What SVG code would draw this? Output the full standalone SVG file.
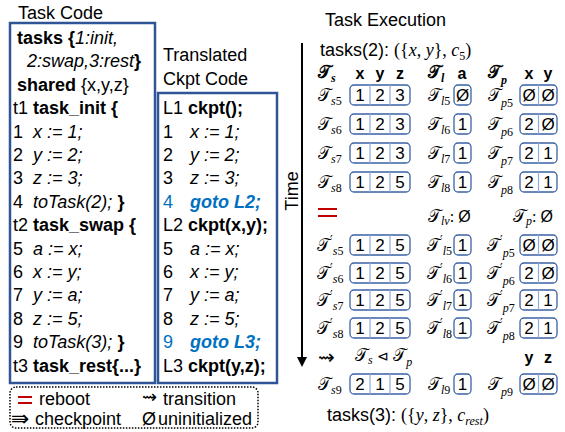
<svg xmlns="http://www.w3.org/2000/svg" width="565" height="432" viewBox="0 0 565 432">
<style>
.t{font-family:"Liberation Sans",Arial,sans-serif;font-size:18px;fill:#000}
.b{font-weight:bold}
.i{font-style:italic}
.blue{fill:#0070C0}
.box{fill:none;stroke:#2F5597;stroke-width:2.5}
.vb{fill:#fff;stroke:#3B62A5;stroke-width:1.3}
.dv{stroke:#8EA9DB;stroke-width:1.2}
.v{font-family:"Liberation Sans",Arial,sans-serif;font-size:17px;text-anchor:middle}
.m{font-family:"DejaVu Serif","DejaVu Sans",serif;font-size:17px}
.s{font-family:"Liberation Serif",serif;font-style:italic;font-size:12px}
.d{font-family:"Liberation Serif",serif;font-style:normal;font-size:12px}
.pr{font-family:"DejaVu Sans",sans-serif;font-style:normal;font-size:12px}
.hd{font-family:"Liberation Sans",Arial,sans-serif;font-size:16px;font-weight:bold;text-anchor:middle}
.mi{font-family:"Liberation Serif",serif;font-style:italic}
.mr{font-family:"Liberation Serif",serif}
</style>
<defs>
<g id="b3"><rect class="vb" x="0" y="-10" width="60" height="20" rx="4"/><line class="dv" x1="20" y1="-10" x2="20" y2="10"/><line class="dv" x1="40" y1="-10" x2="40" y2="10"/></g>
<g id="b1"><rect class="vb" x="0" y="-10" width="17" height="20" rx="4"/></g>
<g id="b2"><rect class="vb" x="0" y="-10" width="37" height="20" rx="4"/><line class="dv" x1="18.5" y1="-10" x2="18.5" y2="10"/></g>
</defs>
<g id="task-code">
<text class="t" x="18" y="19" font-size="17">Task Code</text>
<rect class="box" x="10" y="23" width="145" height="360"/>
<text class="t" x="17" y="44"><tspan class="b">tasks {</tspan><tspan class="i">1:init,</tspan></text>
<text class="t" x="27" y="67"><tspan class="i">2:swap,3:rest</tspan><tspan class="b">}</tspan></text>
<text class="t" x="17" y="91"><tspan class="b">shared</tspan> {x,y,z}</text>
<text class="t" x="13" y="114">t1 <tspan class="b">task_init {</tspan></text>
<text class="t" x="13" y="138">1</text><text class="t i" x="33" y="138">x := 1;</text>
<text class="t" x="13" y="161">2</text><text class="t i" x="33" y="161">y := 2;</text>
<text class="t" x="13" y="184">3</text><text class="t i" x="33" y="184">z := 3;</text>
<text class="t" x="13" y="208">4</text><text class="t" x="33" y="208"><tspan class="i">toTask(2);</tspan><tspan class="b"> }</tspan></text>
<text class="t" x="13" y="231">t2 <tspan class="b">task_swap {</tspan></text>
<text class="t" x="13" y="255">5</text><text class="t i" x="33" y="255">a := x;</text>
<text class="t" x="13" y="278">6</text><text class="t i" x="33" y="278">x := y;</text>
<text class="t" x="13" y="301">7</text><text class="t i" x="33" y="301">y := a;</text>
<text class="t" x="13" y="325">8</text><text class="t i" x="33" y="325">z := 5;</text>
<text class="t" x="13" y="348">9</text><text class="t" x="33" y="348"><tspan class="i">toTask(3);</tspan><tspan class="b"> }</tspan></text>
<text class="t" x="13" y="372">t3 <tspan class="b">task_rest{...}</tspan></text>
</g>
<g id="ckpt-code">
<text class="t" x="163" y="61">Translated</text>
<text class="t" x="163" y="85">Ckpt Code</text>
<rect class="box" x="158" y="93" width="119" height="290"/>
<text class="t" x="163" y="114">L1 <tspan class="b">ckpt();</tspan></text>
<text class="t" x="163" y="138">1</text><text class="t i" x="190" y="138">x := 1;</text>
<text class="t" x="163" y="161">2</text><text class="t i" x="190" y="161">y := 2;</text>
<text class="t" x="163" y="184">3</text><text class="t i" x="190" y="184">z := 3;</text>
<text class="t blue" x="163" y="208">4</text><text class="t b i blue" x="190" y="208">goto L2;</text>
<text class="t" x="163" y="231">L2 <tspan class="b">ckpt(x,y);</tspan></text>
<text class="t" x="163" y="255">5</text><text class="t i" x="190" y="255">a := x;</text>
<text class="t" x="163" y="278">6</text><text class="t i" x="190" y="278">x := y;</text>
<text class="t" x="163" y="301">7</text><text class="t i" x="190" y="301">y := a;</text>
<text class="t" x="163" y="325">8</text><text class="t i" x="190" y="325">z := 5;</text>
<text class="t blue" x="163" y="348">9</text><text class="t b i blue" x="190" y="348">goto L3;</text>
<text class="t" x="163" y="372">L3 <tspan class="b">ckpt(y,z);</tspan></text>
</g>
<g id="legend">
<rect x="10" y="387" width="248" height="41" rx="6" fill="none" stroke="#000" stroke-width="1.5" stroke-dasharray="1.5 1.5"/>
<line x1="18" y1="397" x2="32" y2="397" stroke="#C00000" stroke-width="2"/>
<line x1="18" y1="403" x2="32" y2="403" stroke="#C00000" stroke-width="2"/>
<text class="t" x="39" y="405" font-size="17">reboot</text>
<text x="11" y="426" font-family="DejaVu Sans" font-size="22">⇛</text>
<text class="t" x="35" y="425" font-size="17">checkpoint</text>
<text x="142" y="403" font-family="DejaVu Sans" font-size="18">⇝</text>
<text class="t" x="163" y="405" font-size="17">transition</text>
<text class="t" x="142" y="425" font-size="17">Ø</text>
<text class="t" x="158" y="425" font-size="17">uninitialized</text>
</g>
<g id="connectors">
<line x1="302" y1="43" x2="302" y2="358" stroke="#000" stroke-width="2"/>
<polygon points="297,357 307,357 302,367" fill="#000"/>
<text class="t" font-size="17" text-anchor="middle" transform="translate(298,191) rotate(-90)">Time</text>
</g>
<g id="execution">
<text class="t" x="325" y="26" font-size="16.5">Task Execution</text>
<text class="t" x="320" y="56" font-size="17">tasks(2): <tspan class="mr" font-size="18">({</tspan><tspan class="mi" font-size="18">x</tspan><tspan class="mr" font-size="18">, </tspan><tspan class="mi" font-size="18">y</tspan><tspan class="mr" font-size="18">}, </tspan><tspan class="mi" font-size="18">c</tspan><tspan class="mr" font-size="12" dy="4">5</tspan><tspan class="mr" font-size="18" dy="-4">)</tspan></text>
<text class="m b" x="318" y="78" font-size="18">𝒯<tspan class="s" dy="4">s</tspan></text>
<text class="hd" x="360" y="79">x</text><text class="hd" x="380" y="79">y</text><text class="hd" x="400" y="79">z</text>
<text class="m b" x="428" y="78" font-size="18">𝒯<tspan class="s" dy="4">l</tspan></text>
<text class="hd" x="462" y="79">a</text>
<text class="m b" x="488" y="78" font-size="18">𝒯<tspan class="s" dy="6">p</tspan></text>
<text class="hd" x="529" y="79">x</text><text class="hd" x="548" y="79">y</text>
</g>
<g id="row5">
<text class="m" x="318" y="101">𝒯<tspan class="s" dy="4">s</tspan><tspan class="d">5</tspan></text>
<use href="#b3" x="350" y="95"/><text class="v" x="360" y="101">1</text><text class="v" x="380" y="101">2</text><text class="v" x="400" y="101">3</text>
<text class="m" x="428" y="101">𝒯<tspan class="s" dy="4">l</tspan><tspan class="d">5</tspan></text>
<use href="#b1" x="454" y="95"/><text class="v" x="462.5" y="101">Ø</text>
<text class="m" x="488" y="101">𝒯<tspan class="s" dy="6">p</tspan><tspan class="d">5</tspan></text>
<use href="#b2" x="520" y="95"/><text class="v" x="529" y="101">Ø</text><text class="v" x="548" y="101">Ø</text>
</g>
<g id="row6">
<text class="m" x="318" y="130">𝒯<tspan class="s" dy="4">s</tspan><tspan class="d">6</tspan></text>
<use href="#b3" x="350" y="124"/><text class="v" x="360" y="130">1</text><text class="v" x="380" y="130">2</text><text class="v" x="400" y="130">3</text>
<text class="m" x="428" y="130">𝒯<tspan class="s" dy="4">l</tspan><tspan class="d">6</tspan></text>
<use href="#b1" x="454" y="124"/><text class="v" x="462.5" y="130">1</text>
<text class="m" x="488" y="130">𝒯<tspan class="s" dy="6">p</tspan><tspan class="d">6</tspan></text>
<use href="#b2" x="520" y="124"/><text class="v" x="529" y="130">2</text><text class="v" x="548" y="130">Ø</text>
</g>
<g id="row7">
<text class="m" x="318" y="159">𝒯<tspan class="s" dy="4">s</tspan><tspan class="d">7</tspan></text>
<use href="#b3" x="350" y="153"/><text class="v" x="360" y="159">1</text><text class="v" x="380" y="159">2</text><text class="v" x="400" y="159">3</text>
<text class="m" x="428" y="159">𝒯<tspan class="s" dy="4">l</tspan><tspan class="d">7</tspan></text>
<use href="#b1" x="454" y="153"/><text class="v" x="462.5" y="159">1</text>
<text class="m" x="488" y="159">𝒯<tspan class="s" dy="6">p</tspan><tspan class="d">7</tspan></text>
<use href="#b2" x="520" y="153"/><text class="v" x="529" y="159">2</text><text class="v" x="548" y="159">1</text>
</g>
<g id="row8">
<text class="m" x="318" y="188">𝒯<tspan class="s" dy="4">s</tspan><tspan class="d">8</tspan></text>
<use href="#b3" x="350" y="182"/><text class="v" x="360" y="188">1</text><text class="v" x="380" y="188">2</text><text class="v" x="400" y="188">5</text>
<text class="m" x="428" y="188">𝒯<tspan class="s" dy="4">l</tspan><tspan class="d">8</tspan></text>
<use href="#b1" x="454" y="182"/><text class="v" x="462.5" y="188">1</text>
<text class="m" x="488" y="188">𝒯<tspan class="s" dy="6">p</tspan><tspan class="d">8</tspan></text>
<use href="#b2" x="520" y="182"/><text class="v" x="529" y="188">2</text><text class="v" x="548" y="188">1</text>
</g>
<g id="reboot">
<line x1="318" y1="209" x2="337" y2="209" stroke="#C00000" stroke-width="2"/>
<line x1="318" y1="216" x2="337" y2="216" stroke="#C00000" stroke-width="2"/>
<text class="m" x="428" y="222" font-size="15">𝒯<tspan class="s" dy="3">lv</tspan><tspan class="mr" dy="-3" font-size="16">: </tspan><tspan font-family="Liberation Sans" font-size="16">Ø</tspan></text>
<text class="m" x="513" y="222" font-size="15">𝒯<tspan class="s" dy="3">p</tspan><tspan class="mr" dy="-3" font-size="16">: </tspan><tspan font-family="Liberation Sans" font-size="16">Ø</tspan></text>
</g>
<g id="row5p">
<text class="m" x="317" y="251">𝒯<tspan class="pr" dy="-7">′</tspan><tspan class="s" dy="11">s</tspan><tspan class="d">5</tspan></text>
<use href="#b3" x="350" y="245"/><text class="v" x="360" y="251">1</text><text class="v" x="380" y="251">2</text><text class="v" x="400" y="251">5</text>
<text class="m" x="427" y="251">𝒯<tspan class="pr" dy="-7">′</tspan><tspan class="s" dy="11">l</tspan><tspan class="d">5</tspan></text>
<use href="#b1" x="454" y="245"/><text class="v" x="462.5" y="251">1</text>
<text class="m" x="487" y="251">𝒯<tspan class="pr" dy="-7">′</tspan><tspan class="s" dy="13">p</tspan><tspan class="d">5</tspan></text>
<use href="#b2" x="520" y="245"/><text class="v" x="529" y="251">Ø</text><text class="v" x="548" y="251">Ø</text>
</g>
<g id="row6p">
<text class="m" x="317" y="279">𝒯<tspan class="pr" dy="-7">′</tspan><tspan class="s" dy="11">s</tspan><tspan class="d">6</tspan></text>
<use href="#b3" x="350" y="273"/><text class="v" x="360" y="279">1</text><text class="v" x="380" y="279">2</text><text class="v" x="400" y="279">5</text>
<text class="m" x="427" y="279">𝒯<tspan class="pr" dy="-7">′</tspan><tspan class="s" dy="11">l</tspan><tspan class="d">6</tspan></text>
<use href="#b1" x="454" y="273"/><text class="v" x="462.5" y="279">1</text>
<text class="m" x="487" y="279">𝒯<tspan class="pr" dy="-7">′</tspan><tspan class="s" dy="13">p</tspan><tspan class="d">6</tspan></text>
<use href="#b2" x="520" y="273"/><text class="v" x="529" y="279">2</text><text class="v" x="548" y="279">Ø</text>
</g>
<g id="row7p">
<text class="m" x="317" y="306">𝒯<tspan class="pr" dy="-7">′</tspan><tspan class="s" dy="11">s</tspan><tspan class="d">7</tspan></text>
<use href="#b3" x="350" y="300"/><text class="v" x="360" y="306">1</text><text class="v" x="380" y="306">2</text><text class="v" x="400" y="306">5</text>
<text class="m" x="427" y="306">𝒯<tspan class="pr" dy="-7">′</tspan><tspan class="s" dy="11">l</tspan><tspan class="d">7</tspan></text>
<use href="#b1" x="454" y="300"/><text class="v" x="462.5" y="306">1</text>
<text class="m" x="487" y="306">𝒯<tspan class="pr" dy="-7">′</tspan><tspan class="s" dy="13">p</tspan><tspan class="d">7</tspan></text>
<use href="#b2" x="520" y="300"/><text class="v" x="529" y="306">2</text><text class="v" x="548" y="306">1</text>
</g>
<g id="row8p">
<text class="m" x="317" y="334">𝒯<tspan class="pr" dy="-7">′</tspan><tspan class="s" dy="11">s</tspan><tspan class="d">8</tspan></text>
<use href="#b3" x="350" y="328"/><text class="v" x="360" y="334">1</text><text class="v" x="380" y="334">2</text><text class="v" x="400" y="334">5</text>
<text class="m" x="427" y="334">𝒯<tspan class="pr" dy="-7">′</tspan><tspan class="s" dy="11">l</tspan><tspan class="d">8</tspan></text>
<use href="#b1" x="454" y="328"/><text class="v" x="462.5" y="334">1</text>
<text class="m" x="487" y="334">𝒯<tspan class="pr" dy="-7">′</tspan><tspan class="s" dy="13">p</tspan><tspan class="d">8</tspan></text>
<use href="#b2" x="520" y="328"/><text class="v" x="529" y="334">2</text><text class="v" x="548" y="334">1</text>
</g>
<g id="transition">
<text x="318" y="364" font-family="DejaVu Sans" font-size="20">⇝</text>
<text class="m" x="355" y="361" font-size="15">𝒯<tspan class="s" dy="3">s</tspan><tspan font-family="DejaVu Sans" font-size="14" dy="-3"> ⊲ </tspan>𝒯<tspan class="s" dy="5">p</tspan></text>
<text class="hd" x="529" y="363">y</text><text class="hd" x="548" y="363">z</text>
</g>
<g id="row9">
<text class="m" x="318" y="390">𝒯<tspan class="s" dy="4">s</tspan><tspan class="d">9</tspan></text>
<use href="#b3" x="350" y="384"/><text class="v" x="360" y="390">2</text><text class="v" x="380" y="390">1</text><text class="v" x="400" y="390">5</text>
<text class="m" x="428" y="390">𝒯<tspan class="s" dy="4">l</tspan><tspan class="d">9</tspan></text>
<use href="#b1" x="454" y="384"/><text class="v" x="462.5" y="390">1</text>
<text class="m" x="488" y="390">𝒯<tspan class="s" dy="6">p</tspan><tspan class="d">9</tspan></text>
<use href="#b2" x="520" y="384"/><text class="v" x="529" y="390">Ø</text><text class="v" x="548" y="390">Ø</text>
</g>
<g id="tasks3">
<text class="t" x="327" y="421" font-size="17">tasks(3): <tspan class="mr" font-size="18">({</tspan><tspan class="mi" font-size="18">y</tspan><tspan class="mr" font-size="18">, </tspan><tspan class="mi" font-size="18">z</tspan><tspan class="mr" font-size="18">}, </tspan><tspan class="mi" font-size="18">c</tspan><tspan class="s" font-size="12" dy="4">rest</tspan><tspan class="mr" font-size="18" dy="-4">)</tspan></text>
</g>
</svg>
